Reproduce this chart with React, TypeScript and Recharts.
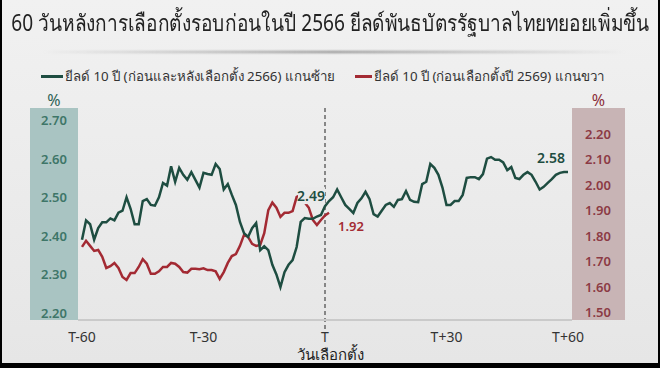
import { LineChart, Line, XAxis, YAxis, ReferenceLine, LabelList } from 'recharts'

// วันนับจากวันเลือกตั้ง (T-60 .. T+60)
const days = Array.from({ length: 121 }, (_, i) => i - 60)
const tickDays = [-60, -30, 0, 30, 60]
const tickLabels = ['T-60', 'T-30', 'T', 'T+30', 'T+60']
const leftTicks = [2.2, 2.3, 2.4, 2.5, 2.6, 2.7]
const rightTicks = [1.5, 1.6, 1.7, 1.8, 1.9, 2.0, 2.1, 2.2]

// ยีลด์ 10 ปี (ก่อนและหลังเลือกตั้ง 2566) แกนซ้าย
const yield2566 = [
    2.39, 2.44, 2.43, 2.39, 2.42, 2.435, 2.435, 2.445, 2.44, 2.46,
    2.465, 2.50, 2.47, 2.43, 2.43, 2.49, 2.495, 2.48, 2.478, 2.50,
    2.537, 2.53, 2.58, 2.54, 2.576, 2.558, 2.545, 2.565, 2.545, 2.525,
    2.563, 2.56, 2.558, 2.586, 2.573, 2.52, 2.534, 2.506, 2.48, 2.436,
    2.407, 2.397, 2.42, 2.433, 2.363, 2.373, 2.363, 2.325, 2.30, 2.267,
    2.306, 2.325, 2.337, 2.371, 2.436, 2.446, 2.444, 2.444, 2.45, 2.454,
    2.477,
    2.49, 2.50, 2.52, 2.50, 2.48, 2.47, 2.459, 2.485, 2.497, 2.514,
    2.495, 2.456, 2.45, 2.465, 2.48, 2.485, 2.475, 2.493, 2.495, 2.516,
    2.493, 2.488, 2.487, 2.534, 2.54, 2.586, 2.576, 2.558, 2.525, 2.48,
    2.48, 2.49, 2.49, 2.506, 2.55, 2.552, 2.552, 2.547, 2.56, 2.60,
    2.604, 2.597, 2.597, 2.59, 2.57, 2.578, 2.55, 2.547, 2.558, 2.565,
    2.558, 2.54, 2.52, 2.527, 2.537, 2.547, 2.558, 2.563, 2.565, 2.565,
]

// ยีลด์ 10 ปี (ก่อนเลือกตั้งปี 2569) แกนขวา
const yield2569 = [
    1.756, 1.78, 1.76, 1.74, 1.744, 1.717, 1.673, 1.68, 1.693, 1.673,
    1.638, 1.626, 1.653, 1.653, 1.677, 1.708, 1.69, 1.65, 1.65, 1.66,
    1.677, 1.677, 1.693, 1.69, 1.677, 1.657, 1.655, 1.67, 1.67, 1.668,
    1.672, 1.665, 1.665, 1.66, 1.63, 1.657, 1.693, 1.72, 1.728, 1.76,
    1.803, 1.795, 1.768, 1.76, 1.764, 1.81, 1.90, 1.93, 1.91, 1.874,
    1.89, 1.89, 1.897, 1.953, 1.96, 1.93, 1.91, 1.862, 1.842, 1.862,
    1.88, 1.89,
]

const labelT = '2.49'
const labelRedEnd = '1.92'
const labelGreenEnd = '2.58'

const rows = days.map((d, i) => ({ day: d, green: yield2566[i], red: yield2569[i] }))

const GREEN = '#1e4d41'
const RED = '#a32a33'
const FONT = '"Noto Sans", "Open Sans", sans-serif'

const LeftTick = (p: any) => (
    <text x={p.x - 24} y={p.y} dy={5} textAnchor="middle" fill="#3e7668" fontSize={13} fontWeight={600} fontFamily={FONT}>
        {Number(p.payload.value).toFixed(2)}
    </text>
)

const RightTick = (p: any) => (
    <text x={p.x + 26} y={p.y} dy={5} textAnchor="middle" fill="#8c3a44" fontSize={13} fontWeight={600} fontFamily={FONT}>
        {Number(p.payload.value).toFixed(2)}
    </text>
)

const GreenLabel = (p: any) => {
    const x = p.x ?? p.viewBox?.x
    const y = p.y ?? p.viewBox?.y
    if (p.index === 60) {
        return (
            <g>
                <rect x={x - 27} y={y - 19} width={27} height={17} fill="#eaeaea" />
                <text x={x} y={y - 5} textAnchor="end" fill={GREEN} fontSize={14} fontWeight={600} fontFamily={FONT}>{labelT}</text>
            </g>
        )
    }
    if (p.index === 120) {
        return <text x={x - 3} y={y - 9} textAnchor="end" fill={GREEN} fontSize={14} fontWeight={600} fontFamily={FONT}>{labelGreenEnd}</text>
    }
    return null
}

const RedLabel = (p: any) => {
    const x = p.x ?? p.viewBox?.x
    const y = p.y ?? p.viewBox?.y
    if (p.index === 61) {
        return <text x={x + 9} y={y + 18} textAnchor="start" fill={RED} fontSize={13} fontWeight={600} fontFamily={FONT}>{labelRedEnd}</text>
    }
    return null
}

export default function App() {
    return (
        <div style={{
            position: 'absolute', left: 0, top: 0, width: 660, height: 368, overflow: 'hidden',
            background: 'linear-gradient(#f1f1f1, #e6e6e6)', fontFamily: FONT, boxSizing: 'border-box',
            borderLeft: '2px solid #000', borderRight: '2px solid #000', borderBottom: '5px solid #000',
        }}>
            {/* title */}
            <div style={{ position: 'absolute', left: 0, top: 5, width: 656, display: 'flex', justifyContent: 'center' }}>
                <span style={{ flexShrink: 0, whiteSpace: 'nowrap', fontSize: 23, color: '#222', transform: 'scaleX(0.83)' }}>
                    60 วันหลังการเลือกตั้งรอบก่อนในปี 2566 ยีลด์พันธบัตรรัฐบาลไทยทยอยเพิ่มขึ้น
                </span>
            </div>
            <div style={{ position: 'absolute', left: 40, top: 51, width: 585, height: 2, background: 'linear-gradient(90deg, rgba(120,120,120,0), rgba(110,110,110,0.8) 50%, rgba(120,120,120,0))', filter: 'blur(1px)' }} />

            {/* legend */}
            <div style={{ position: 'absolute', left: 39, top: 66, display: 'flex', alignItems: 'center', fontSize: 13.3, color: '#333', whiteSpace: 'nowrap' }}>
                <span style={{ display: 'inline-block', width: 22, height: 3, background: GREEN, marginRight: 2 }} />
                <span>ยีลด์ 10 ปี (ก่อนและหลังเลือกตั้ง 2566) แกนซ้าย</span>
                <span style={{ display: 'inline-block', width: 17, height: 3, background: RED, marginLeft: 20, marginRight: 2 }} />
                <span>ยีลด์ 10 ปี (ก่อนเลือกตั้งปี 2569) แกนขวา</span>
            </div>

            {/* axis panels */}
            <div style={{ position: 'absolute', left: 28, top: 108, width: 48, height: 212, background: '#a9c4c2' }} />
            <div style={{ position: 'absolute', left: 570, top: 108, width: 53, height: 212, background: '#c8b4b5' }} />
            <div style={{ position: 'absolute', left: 28, top: 89, width: 48, textAlign: 'center', fontSize: 16, color: '#2f6355' }}>%</div>
            <div style={{ position: 'absolute', left: 570, top: 89, width: 53, textAlign: 'center', fontSize: 16, color: '#8c2f3a' }}>%</div>

            <div style={{ position: 'absolute', left: -2, top: 0 }}>
                <LineChart width={660} height={368} data={rows} margin={{ top: 120, right: 35, bottom: 28, left: 30 }}>
                    <XAxis
                        dataKey="day" type="number" domain={[-60, 60]} ticks={tickDays}
                        tickFormatter={(v: number) => tickLabels[tickDays.indexOf(v)]}
                        padding={{ left: 4, right: 4 }} height={20} tickSize={0} tickMargin={12}
                        axisLine={{ stroke: '#cacaca', strokeWidth: 2 }}
                        tick={{ fill: '#333', fontSize: 14, fontFamily: FONT }}
                    />
                    <YAxis yAxisId="left" domain={[2.182, 2.7]} ticks={leftTicks} allowDataOverflow width={48}
                        axisLine={false} tickLine={false} tickSize={0} tickMargin={0} tick={<LeftTick />} />
                    <YAxis yAxisId="right" orientation="right" domain={[1.4685, 2.255]} ticks={rightTicks} allowDataOverflow width={53}
                        axisLine={false} tickLine={false} tickSize={0} tickMargin={0} tick={<RightTick />} />
                    <ReferenceLine yAxisId="left" ifOverflow="visible"
                        segment={[{ x: 0, y: 2.731 }, { x: 0, y: 2.151 }]}
                        stroke="#666" strokeWidth={1.5} strokeDasharray="4 3" />
                    <Line yAxisId="right" dataKey="red" stroke={RED} strokeWidth={2.5} dot={false} isAnimationActive={false} connectNulls={false}>
                        <LabelList dataKey="red" content={<RedLabel />} />
                    </Line>
                    <Line yAxisId="left" dataKey="green" stroke={GREEN} strokeWidth={2.5} dot={false} isAnimationActive={false}>
                        <LabelList dataKey="green" content={<GreenLabel />} />
                    </Line>
                </LineChart>
            </div>

            <div style={{ position: 'absolute', left: 270, top: 345, width: 116, textAlign: 'center', fontSize: 15, lineHeight: '18px', color: '#222' }}>วันเลือกตั้ง</div>
        </div>
    )
}
